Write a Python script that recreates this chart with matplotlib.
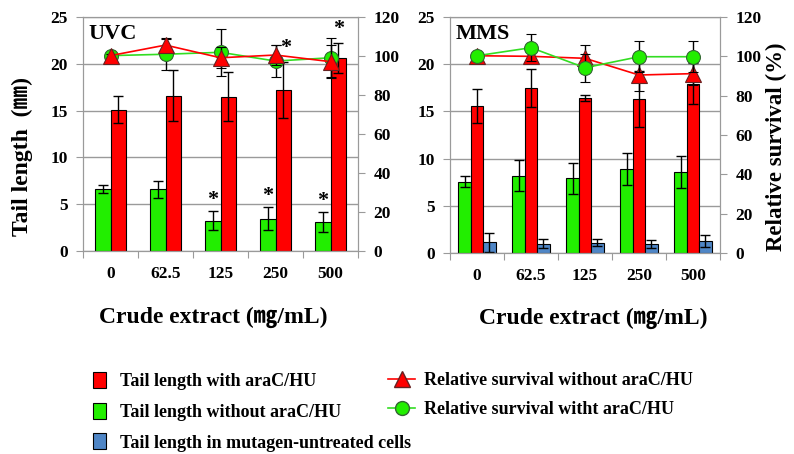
import matplotlib
matplotlib.use("Agg")
import matplotlib.pyplot as plt
import numpy as np
from matplotlib.patches import Patch
from matplotlib.lines import Line2D

categories = ["0", "62.5", "125", "250", "500"]

# UVC panel
uvc_green = [6.6, 6.6, 3.25, 3.45, 3.1]
uvc_green_err = [0.45, 0.9, 1.0, 1.25, 1.05]
uvc_red = [15.1, 16.6, 16.5, 17.2, 20.65]
uvc_red_err = [1.45, 2.7, 2.65, 2.95, 1.6]
uvc_surv_tri = [100.2, 105.6, 99.1, 100.5, 97.1]
uvc_surv_tri_err = [1.0, 3.8, 5.5, 5.0, 8.5]
uvc_surv_circ = [100.2, 100.9, 101.9, 97.4, 99.1]
uvc_surv_circ_err = [1.0, 8.0, 12.0, 8.0, 10.0]
uvc_star_green = [False, False, True, True, True]
uvc_star_red = [False, False, False, False, True]
uvc_star_tri = [False, False, False, True, False]

# MMS panel
mms_green = [7.55, 8.2, 7.9, 8.9, 8.55]
mms_green_err = [0.6, 1.6, 1.6, 1.7, 1.7]
mms_red = [15.6, 17.5, 16.4, 16.3, 17.95]
mms_red_err = [1.8, 2.0, 0.35, 3.0, 2.2]
mms_blue = [1.15, 1.0, 1.1, 0.95, 1.27]
mms_blue_err = [1.0, 0.5, 0.4, 0.4, 0.65]
mms_surv_tri = [100.3, 100.0, 99.0, 90.5, 91.2]
mms_surv_tri_err = [1.0, 3.0, 6.7, 8.0, 6.0]
mms_surv_circ = [100.3, 104.4, 94.2, 99.8, 99.8]
mms_surv_circ_err = [1.0, 7.0, 7.0, 8.0, 8.0]

RED = "#ff0000"
GREEN = "#22ee00"
BLUE = "#4f86c6"
GRID = "#9a9a9a"
SERIF = ["Liberation Serif", "Noto Sans CJK JP", "DejaVu Sans"]

plt.rcParams["font.family"] = SERIF
plt.rcParams["font.weight"] = "bold"

fig = plt.figure(figsize=(7.94, 4.54), dpi=100)
W, H = 794, 454

def make_axes(x0, x1, y0, y1):
    return fig.add_axes([x0 / W, 1 - y1 / H, (x1 - x0) / W, (y1 - y0) / H])

ax1 = make_axes(83, 358, 17, 251)
ax3 = make_axes(450, 720, 17, 253)

x = np.arange(len(categories))
ekw = dict(ecolor="black", elinewidth=1.0, capsize=3.5, capthick=1.0)

def style_axes(ax, ax2, title):
    ax.set_xlim(-0.5, 4.5)
    ax.set_ylim(0, 25)
    ax.set_yticks([0, 5, 10, 15, 20, 25])
    ax.yaxis.grid(True, color=GRID, linewidth=1.0)
    ax.set_axisbelow(True)
    ax.set_xticks(np.arange(-0.5, 5.0, 1.0))
    ax.set_xticklabels([])
    ax.set_xticks(x, minor=True)
    ax.set_xticklabels(categories, minor=True)
    ax.tick_params(axis="x", which="major", length=5, color=GRID, direction="out")
    ax.tick_params(axis="x", which="minor", length=0, pad=11, labelsize=12.5)
    ax.tick_params(axis="y", length=5, color=GRID, labelsize=12.5, pad=6)
    for s in ax.spines.values():
        s.set_color(GRID)
    ax2.set_ylim(0, 120)
    ax2.set_yticks([0, 20, 40, 60, 80, 100, 120])
    ax2.tick_params(axis="y", length=5, color=GRID, labelsize=12.5, pad=6)
    for s in ax2.spines.values():
        s.set_color(GRID)
    for lab in ax.get_xticklabels(minor=True) + ax.get_yticklabels() + ax2.get_yticklabels():
        lab.set_fontweight("bold")
    ax.text(0.02, 0.97, title, transform=ax.transAxes, fontsize=16,
            fontweight="bold", ha="left", va="top")

# ---- UVC ----
w1 = 0.29
ax1.bar(x - w1 / 2, uvc_green, w1, color=GREEN, edgecolor="black", linewidth=0.8,
        yerr=uvc_green_err, error_kw=ekw, zorder=2)
ax1.bar(x + w1 / 2, uvc_red, w1, color=RED, edgecolor="black", linewidth=0.8,
        yerr=uvc_red_err, error_kw=ekw, zorder=2)
ax2 = ax1.twinx()
ax2.errorbar(x, uvc_surv_circ, yerr=uvc_surv_circ_err, color="#33dd22", lw=1.2,
             marker="o", ms=10, mfc=GREEN, mec="#336633", mew=0.8,
             ecolor="black", elinewidth=1.0, capsize=3.5, zorder=3)
ax2.errorbar(x, uvc_surv_tri, yerr=uvc_surv_tri_err, color=RED, lw=1.2,
             marker="^", ms=11, mfc=RED, mec="#662222", mew=0.8,
             ecolor="black", elinewidth=1.0, capsize=3.5, zorder=4)
style_axes(ax1, ax2, "UVC")

for i in range(len(categories)):
    if uvc_star_green[i]:
        ax1.text(x[i] - w1 / 2, uvc_green[i] + uvc_green_err[i] + 0.1, "*",
                 ha="center", va="bottom", fontsize=16, fontweight="bold")
    if uvc_star_red[i]:
        ax1.text(x[i] + w1 / 2, uvc_red[i] + uvc_red_err[i] + 0.4, "*",
                 ha="center", va="bottom", fontsize=16, fontweight="bold")
    if uvc_star_tri[i]:
        ax2.text(x[i] + 0.18, uvc_surv_tri[i] + uvc_surv_tri_err[i] - 6.5, "*",
                 ha="center", va="bottom", fontsize=16, fontweight="bold")

# ---- MMS ----
w3 = 0.23
ax3.bar(x - w3, mms_green, w3, color=GREEN, edgecolor="black", linewidth=0.8,
        yerr=mms_green_err, error_kw=ekw, zorder=2)
ax3.bar(x, mms_red, w3, color=RED, edgecolor="black", linewidth=0.8,
        yerr=mms_red_err, error_kw=ekw, zorder=2)
ax3.bar(x + w3, mms_blue, w3, color=BLUE, edgecolor="black", linewidth=0.8,
        yerr=mms_blue_err, error_kw=ekw, zorder=2)
ax4 = ax3.twinx()
ax4.errorbar(x, mms_surv_tri, yerr=mms_surv_tri_err, color=RED, lw=1.2,
             marker="^", ms=11, mfc=RED, mec="#662222", mew=0.8,
             ecolor="black", elinewidth=1.0, capsize=3.5, zorder=3)
ax4.errorbar(x, mms_surv_circ, yerr=mms_surv_circ_err, color="#33dd22", lw=1.2,
             marker="o", ms=10, mfc=GREEN, mec="#336633", mew=0.8,
             ecolor="black", elinewidth=1.0, capsize=3.5, zorder=4)
style_axes(ax3, ax4, "MMS")

# axis labels
fig.text(22 / W, 1 - 157 / H, "Tail length  (\u339c)", rotation=90, ha="center",
         va="center", fontsize=17, fontweight="bold", family=SERIF)
fig.text(776 / W, 1 - 147 / H, "Relative survival (%)", rotation=90, ha="center",
         va="center", fontsize=16.5, fontweight="bold", family=SERIF)
fig.text(213 / W, 1 - 317 / H, "Crude extract (\u338e/mL)", ha="center", va="center",
         fontsize=17, fontweight="bold", family=SERIF)
fig.text(593 / W, 1 - 318 / H, "Crude extract (\u338e/mL)", ha="center", va="center",
         fontsize=17, fontweight="bold", family=SERIF)

# legends
h_red = Patch(facecolor=RED, edgecolor="black", linewidth=0.8)
h_green = Patch(facecolor=GREEN, edgecolor="black", linewidth=0.8)
h_blue = Patch(facecolor=BLUE, edgecolor="black", linewidth=0.8)
leg1 = fig.legend([h_red, h_green, h_blue],
                  ["Tail length with araC/HU", "Tail length without araC/HU",
                   "Tail length in mutagen-untreated cells"],
                  loc="upper left", bbox_to_anchor=(86 / W, 1 - 365 / H),
                  frameon=False, handlelength=0.7, handleheight=1.0,
                  handletextpad=0.8, labelspacing=0.68, borderaxespad=0.0,
                  prop=dict(family=SERIF, weight="bold", size=13))
h_tri = Line2D([0], [0], color=RED, lw=1.2, marker="^", ms=11, mfc=RED, mec="#662222")
h_circ = Line2D([0], [0], color="#33dd22", lw=1.2, marker="o", ms=10, mfc=GREEN, mec="#336633")
leg2 = fig.legend([h_tri, h_circ],
                  ["Relative survival without araC/HU", "Relative survival witht araC/HU"],
                  loc="upper left", bbox_to_anchor=(381 / W, 1 - 365 / H),
                  frameon=False, handlelength=1.5, handletextpad=0.5, labelspacing=0.68,
                  borderaxespad=0.0,
                  prop=dict(family=SERIF, weight="bold", size=13))

fig.savefig("out.png", dpi=100)
